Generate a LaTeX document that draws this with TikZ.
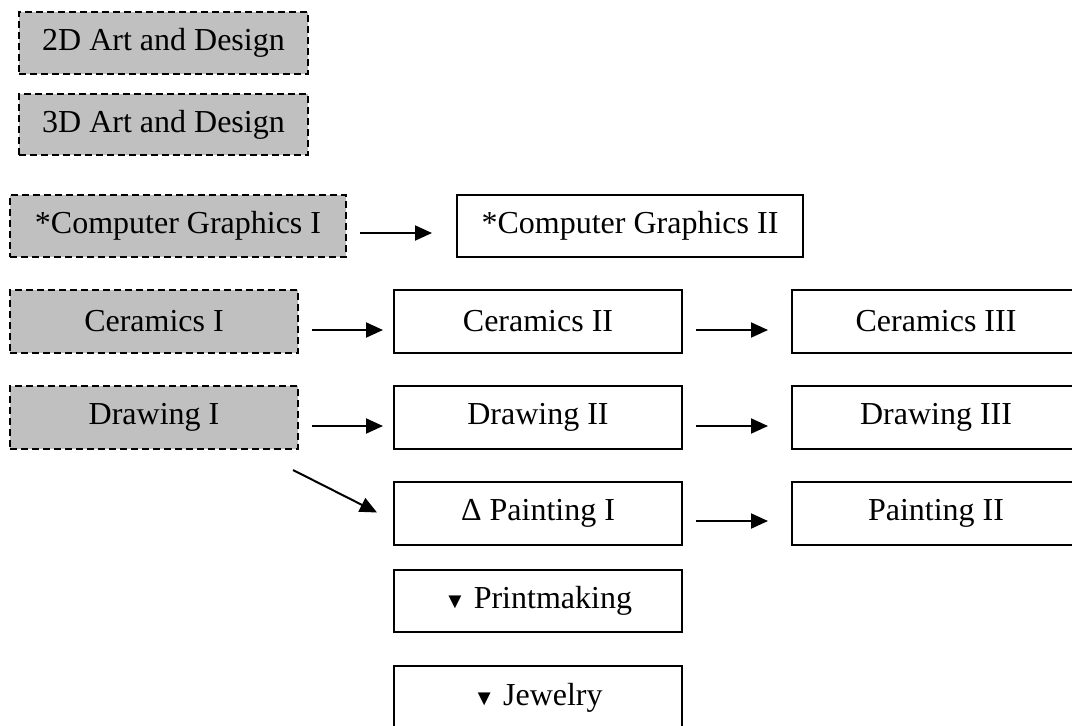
\documentclass[tikz,border=0pt]{standalone}
\usepackage{fontspec}
\setmainfont{Liberation Serif}
\usetikzlibrary{arrows.meta}
\definecolor{boxgray}{HTML}{C0C0C0}
\newcommand{\tri}{{\fontsize{22}{22}\selectfont ▼}}
\tikzset{
  base/.style={draw=black, line width=1.4pt, inner sep=0pt, outer sep=0pt,
    minimum width=288pt, minimum height=63pt, font=\fontsize{32}{38}\selectfont},
  grayb/.style={base, fill=boxgray, dashed, dash pattern=on 7pt off 4pt},
  whiteb/.style={base, fill=white},
  arr/.style={line width=2pt, -{Triangle[length=17pt,width=15pt]}}
}
\begin{document}
\begin{tikzpicture}[x=1pt,y=-1pt]
\useasboundingbox (0,0) rectangle (1072,726);
\clip (0,0) rectangle (1072,726);
\node[grayb, minimum width=289pt, minimum height=62pt] (d2) at (163.5,43) {2D Art and Design};
\node[grayb, minimum width=289pt, minimum height=61pt] (d3) at (163.5,124.5) {3D Art and Design};
\node[grayb, minimum width=336pt, minimum height=62pt] (cg1) at (178,226) {*Computer Graphics I};
\node[whiteb, minimum width=346pt, minimum height=62pt] (cg2) at (630,226) {*Computer Graphics II};
\node[grayb] (cer1) at (154,321.5) {Ceramics I};
\node[whiteb] (cer2) at (538,321.5) {Ceramics II};
\node[whiteb] (cer3) at (936,321.5) {Ceramics III};
\node[grayb] (dr1) at (154,417.5) {Drawing I};
\node[whiteb] (dr2) at (538,417.5) {Drawing II};
\node[whiteb] (dr3) at (936,417.5) {Drawing III};
\node[whiteb] (p1) at (538,513.5) {Δ Painting I};
\node[whiteb] (p2) at (936,513.5) {Painting II};
\node[whiteb, minimum height=62pt] (pm) at (538,601) {\tri\ Printmaking};
\node[whiteb, minimum height=64pt] (jw) at (538,698) {\tri\ Jewelry};
\draw[arr] ([xshift=14pt,yshift=-7pt]cg1.east) -- ([xshift=-25pt,yshift=-7pt]cg2.west);
\draw[arr] ([xshift=14pt,yshift=-8.5pt]cer1.east) -- ([xshift=-11pt,yshift=-8.5pt]cer2.west);
\draw[arr] ([xshift=14pt,yshift=-8.5pt]cer2.east) -- ([xshift=-24pt,yshift=-8.5pt]cer3.west);
\draw[arr] ([xshift=14pt,yshift=-8.5pt]dr1.east) -- ([xshift=-11pt,yshift=-8.5pt]dr2.west);
\draw[arr] ([xshift=14pt,yshift=-8.5pt]dr2.east) -- ([xshift=-24pt,yshift=-8.5pt]dr3.west);
\draw[arr] ([xshift=14pt,yshift=-7.5pt]p1.east) -- ([xshift=-24pt,yshift=-7.5pt]p2.west);
\draw[arr] ([xshift=-5pt,yshift=-21pt]dr1.south east) -- ([xshift=-17pt,yshift=1pt]p1.west);
\end{tikzpicture}
\end{document}
